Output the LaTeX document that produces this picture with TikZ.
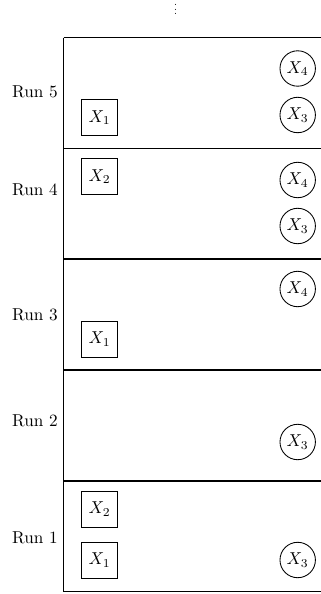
\documentclass[tikz,border=0pt]{standalone}
\begin{document}
\begin{tikzpicture}[x=0.5814pt,y=-0.5814pt,
  sq/.style={draw,line width=0.5pt,minimum size=21pt,inner sep=1pt},
  cir/.style={draw,circle,line width=0.5pt,minimum size=20.6pt,inner sep=0.5pt},
  runlab/.style={inner sep=0pt},
  frame/.style={line width=0.6pt}]
\useasboundingbox (0,0) rectangle (321,594);
\node[inner sep=0pt,anchor=base] (dots) at (175.5,14.5) {\scalebox{0.62}{$\vdots$}};
% separators
\coordinate (L0) at (63.5,37.7);
\coordinate (R0) at (321,37.7);
\coordinate (L1) at (63.5,148.3);
\coordinate (R1) at (321,148.3);
\coordinate (L2) at (63.5,259);
\coordinate (R2) at (321,259);
\coordinate (L3) at (63.5,370);
\coordinate (R3) at (321,370);
\coordinate (L4) at (63.5,481);
\coordinate (R4) at (321,481);
\coordinate (L5) at (63.5,591.7);
\coordinate (R5) at (321,591.7);
\draw[frame] (L0) -- (R0);
\draw[frame] (L1) -- (R1);
\draw[frame] (L2) -- (R2);
\draw[frame] (L3) -- (R3);
\draw[frame] (L4) -- (R4);
\draw[frame] (L5) -- (R5);
\draw[frame] (L0) -- (L5);
% labels
\node[runlab] (r5) at (35,92) {Run 5};
\node[runlab] (r4) at (35,190) {Run 4};
\node[runlab] (r3) at (35,315) {Run 3};
\node[runlab] (r2) at (35,421) {Run 2};
\node[runlab] (r1) at (35,538) {Run 1};
% run 5
\node[sq] (b51) at (99.5,117.5) {$X_1$};
\node[cir] (c54) at (297.7,68.5) {$X_4$};
\node[cir] (c53) at (297.7,115) {$X_3$};
% run 4
\node[sq] (b42) at (99.5,176.7) {$X_2$};
\node[cir] (c44) at (297.7,180) {$X_4$};
\node[cir] (c43) at (297.7,226) {$X_3$};
% run 3
\node[sq] (b31) at (99.5,339) {$X_1$};
\node[cir] (c34) at (297.7,289) {$X_4$};
% run 2
\node[cir] (c23) at (297.7,442) {$X_3$};
% run 1
\node[sq] (b12) at (99.5,509) {$X_2$};
\node[sq] (b11) at (99.5,560.3) {$X_1$};
\node[cir] (c13) at (297.7,560) {$X_3$};
\end{tikzpicture}
\end{document}
